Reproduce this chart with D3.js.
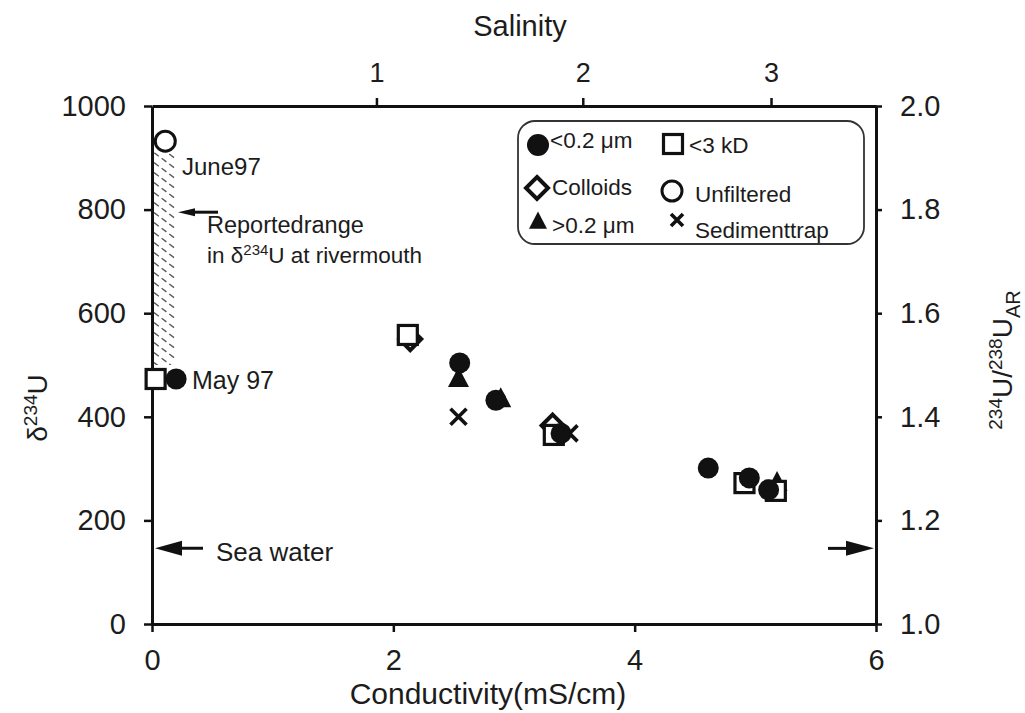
<!DOCTYPE html>
<html>
<head>
<meta charset="utf-8">
<script src="https://cdn.jsdelivr.net/npm/d3@7"></script>
<style>
  html, body { margin: 0; padding: 0; background: #fff; }
  svg { display: block; font-family: "Liberation Sans", Arial, Helvetica, sans-serif; }
</style>
</head>
<body>
<svg id="chart" width="1025" height="713"></svg>
<script>
// ---------- DATA ----------
const xTicks = [0, 2, 4, 6];
const yTicks = [0, 200, 400, 600, 800, 1000];
const yRightTicks = [1.0, 1.2, 1.4, 1.6, 1.8, 2.0];
const salinityLabels = ["1", "2", "3"];
const salinityAtConductivity = [1.86, 3.57, 5.13];

// [conductivity (mS/cm), delta234U]
const lt02um = [[0.20, 473], [2.55, 504], [2.85, 432], [3.39, 368], [4.61, 301], [4.95, 282], [5.11, 259]];
const lt3kD = [[0.03, 473], [2.12, 558], [3.33, 365], [4.91, 272], [5.17, 257]];
const colloids = [[2.14, 550], [3.32, 383]];
const unfiltered = [[0.11, 932]];
const gt02um = [[2.54, 475], [2.89, 436], [5.18, 274]];
const sedimentTrap = [[2.54, 400], [3.46, 368]];

const reportedRange = [500, 910];   // delta234U at river mouth
const seaWater = 146;               // delta234U of sea water

// ---------- SETUP ----------
const svg = d3.select("#chart");
const x = d3.scaleLinear().domain([0, 6]).range([152, 876]);
const y = d3.scaleLinear().domain([0, 1000]).range([624, 106]);
const yR = d3.scaleLinear().domain([1, 2]).range([624, 106]);
const ink = "#111";
const textInk = "#1c1c1c";

// hatched range (dashed diagonal lines clipped to the range box)
const defs = svg.append("defs");
const hx0 = x(0) + 2, hx1 = x(0.2), hy0 = y(reportedRange[1]), hy1 = y(reportedRange[0]);
defs.append("clipPath").attr("id", "hclip").append("rect")
  .attr("x", hx0).attr("y", hy0).attr("width", hx1 - hx0).attr("height", hy1 - hy0);
const hatchRows = d3.range(hy0 - 20, hy1 + 10, 10);
svg.append("g").attr("clip-path", "url(#hclip)").selectAll("line").data(hatchRows).join("line")
  .attr("x1", hx0).attr("x2", hx1 + 2).attr("y1", d => d).attr("y2", d => d + 18)
  .attr("stroke", "#5a5a5a").attr("stroke-width", 1.4).attr("stroke-dasharray", "6,3.5");

// ---------- AXES ----------
function styleAxis(g, fs) {
  g.selectAll(".domain").attr("stroke", ink).attr("stroke-width", 3);
  g.selectAll(".tick line").attr("stroke", ink).attr("stroke-width", 2.5);
  g.selectAll(".tick text").attr("fill", textInk).style("font-size", fs + "px")
    .style("font-family", "'Liberation Sans', Arial, sans-serif");
}

svg.append("g").attr("transform", `translate(0,${y(0)})`)
  .call(d3.axisBottom(x).tickValues(xTicks).tickFormat(d3.format("d")).tickSize(8).tickSizeOuter(0).tickPadding(17))
  .call(g => styleAxis(g, 29));

svg.append("g").attr("transform", `translate(${x(0)},0)`)
  .call(d3.axisLeft(y).tickValues(yTicks).tickFormat(d3.format("d")).tickSize(8).tickSizeOuter(0).tickPadding(18))
  .call(g => styleAxis(g, 29));

svg.append("g").attr("transform", `translate(${x(6)},0)`)
  .call(d3.axisRight(yR).tickValues(yRightTicks).tickFormat(d3.format(".1f")).tickSize(6).tickSizeOuter(0).tickPadding(18))
  .call(g => styleAxis(g, 29));

svg.append("g").attr("transform", `translate(0,${y(1000)})`)
  .call(d3.axisTop(x).tickValues(salinityAtConductivity).tickFormat((d, i) => salinityLabels[i]).tickSize(8).tickSizeOuter(0).tickPadding(16))
  .call(g => styleAxis(g, 27));

// axis titles
svg.append("text").attr("x", 520).attr("y", 36).attr("text-anchor", "middle")
  .style("font-size", "29px").attr("fill", textInk).text("Salinity");

svg.append("text").attr("x", 488).attr("y", 704).attr("text-anchor", "middle")
  .style("font-size", "30px").attr("fill", textInk).text("Conductivity(mS/cm)");

const yl = svg.append("text").attr("transform", "translate(47,408) rotate(-90)")
  .attr("text-anchor", "middle").style("font-size", "28px").attr("fill", textInk);
yl.append("tspan").text("δ");
yl.append("tspan").attr("dy", -10).style("font-size", "19px").text("234");
yl.append("tspan").attr("dy", 10).text("U");

const yr = svg.append("text").attr("transform", "translate(1012,360) rotate(-90)")
  .attr("text-anchor", "middle").style("font-size", "28px").attr("fill", textInk);
yr.append("tspan").attr("dy", -10).style("font-size", "19px").text("234");
yr.append("tspan").attr("dy", 10).text("U/");
yr.append("tspan").attr("dy", -10).style("font-size", "19px").text("238");
yr.append("tspan").attr("dy", 10).text("U");
yr.append("tspan").attr("dy", 8).style("font-size", "20px").text("AR");

// ---------- ARROWS & ANNOTATIONS ----------
function arrow(x1, x2, yy, headLen, headHalf) {
  const dir = x2 > x1 ? 1 : -1;
  svg.append("line").attr("x1", x1).attr("x2", x2 - dir * headLen * 0.5).attr("y1", yy).attr("y2", yy)
    .attr("stroke", ink).attr("stroke-width", 3);
  svg.append("path")
    .attr("d", `M${x2},${yy} L${x2 - dir * headLen},${yy - headHalf} L${x2 - dir * headLen},${yy + headHalf} Z`)
    .attr("fill", ink);
}
arrow(x(0) + 51, x(0) + 3, y(seaWater), 27, 7.5);
arrow(x(6) - 48, x(6) - 2, y(seaWater), 28, 7.5);
arrow(x(0) + 66, x(0) + 26, y(795), 17, 4);

function label(tx, ty, fs, str) {
  return svg.append("text").attr("x", tx).attr("y", ty).style("font-size", fs + "px")
    .attr("fill", textInk).text(str);
}
label(216, y(seaWater) + 13, 26, "Sea water");
label(182, 175, 24, "June97");
label(207, 233, 23.5, "Reportedrange");
const rm = svg.append("text").attr("x", 207).attr("y", 263).style("font-size", "22.5px").attr("fill", textInk);
rm.append("tspan").text("in δ");
rm.append("tspan").attr("dy", -8).style("font-size", "15px").text("234");
rm.append("tspan").attr("dy", 8).text("U at rivermouth");
label(192, 389, 25, "May 97");

// ---------- MARKERS ----------
const g = svg.append("g");
function circleF(px, py, r) {
  return g.append("circle").attr("cx", px).attr("cy", py).attr("r", r).attr("fill", ink);
}
function circleO(px, py, r) {
  return g.append("circle").attr("cx", px).attr("cy", py).attr("r", r).attr("fill", "#fff")
    .attr("stroke", ink).attr("stroke-width", 3);
}
function square(px, py, s) {
  return g.append("rect").attr("x", px - s / 2).attr("y", py - s / 2).attr("width", s).attr("height", s)
    .attr("fill", "#fff").attr("stroke", ink).attr("stroke-width", 3.2);
}
function diamond(px, py, h) {
  return g.append("path").attr("d", `M${px},${py - h} L${px + h},${py} L${px},${py + h} L${px - h},${py} Z`)
    .attr("fill", "#fff").attr("stroke", ink).attr("stroke-width", 4).attr("stroke-linejoin", "miter");
}
function triangle(px, py, s) {
  const hgt = s * 0.95;
  return g.append("path")
    .attr("d", `M${px},${py - hgt * 0.55} L${px + s / 2},${py + hgt * 0.45} L${px - s / 2},${py + hgt * 0.45} Z`)
    .attr("fill", ink);
}
function cross(px, py, a) {
  return g.append("path").attr("d", `M${px - a},${py - a} L${px + a},${py + a} M${px - a},${py + a} L${px + a},${py - a}`)
    .attr("stroke", ink).attr("stroke-width", 3.6).attr("fill", "none");
}

gt02um.forEach(d => triangle(x(d[0]), y(d[1]), 21));
colloids.forEach(d => diamond(x(d[0]), y(d[1]), 11));
lt3kD.forEach(d => square(x(d[0]), y(d[1]), 19));
lt02um.forEach(d => circleF(x(d[0]), y(d[1]), 10.5));
unfiltered.forEach(d => circleO(x(d[0]), y(d[1]), 10));
sedimentTrap.forEach(d => cross(x(d[0]), y(d[1]), 8));

// ---------- LEGEND ----------
svg.append("rect").attr("x", 518).attr("y", 121).attr("width", 346).attr("height", 123).attr("rx", 17)
  .attr("fill", "none").attr("stroke", "#333").attr("stroke-width", 1.8);

circleF(538, 145, 11);
label(550, 148, 22.5, "<0.2 μm");
square(673, 144, 19);
label(689, 153, 22.5, "<3 kD");
diamond(537, 188, 11);
label(552, 195, 22.5, "Colloids");
circleO(672, 191, 10);
label(695, 202, 22.5, "Unfiltered");
triangle(538, 221, 18);
label(552, 233, 22.5, ">0.2 μm");
cross(677, 220, 6);
label(695, 238, 22.5, "Sedimenttrap");
</script>
</body>
</html>
